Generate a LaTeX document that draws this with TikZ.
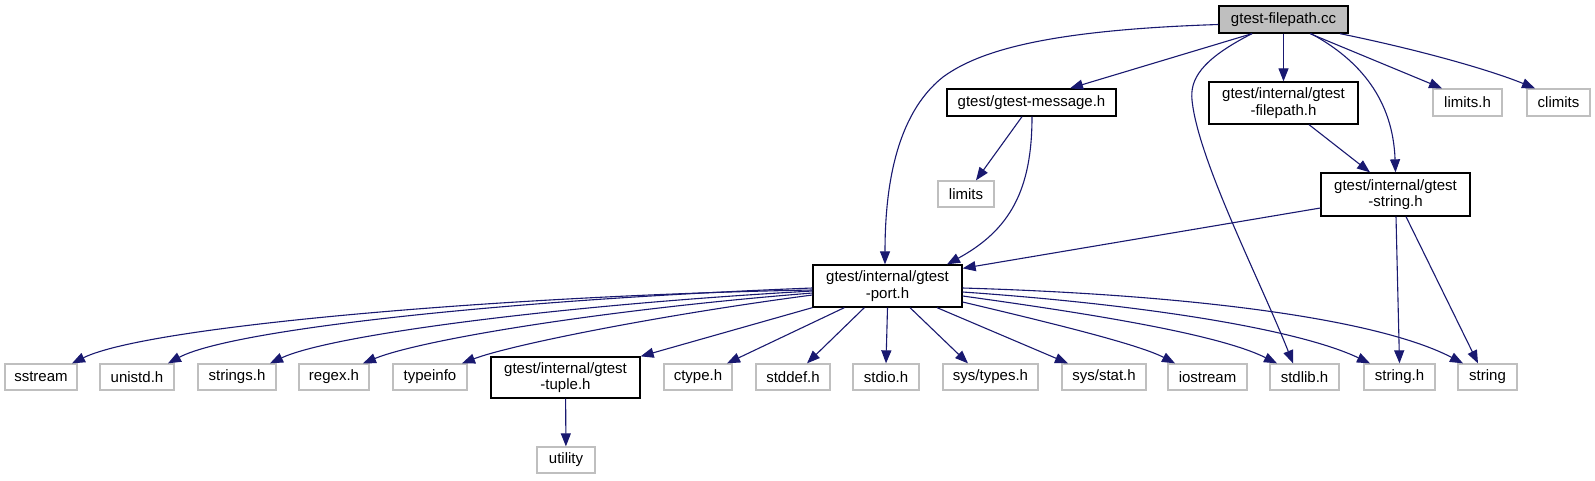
\documentclass[tikz,border=0pt]{standalone}
\usepackage{fontspec}
\setmainfont{Liberation Sans}
\usetikzlibrary{arrows.meta}
\definecolor{edgec}{HTML}{191970}
\definecolor{leafc}{HTML}{BFBFBF}
\definecolor{rootfill}{HTML}{BFBFBF}
\begin{document}
\begin{tikzpicture}[x=1pt,y=-1pt,
  lbl/.style={inner sep=0pt, align=center, font=\fontsize{15}{16.7}\selectfont, minimum height=26pt},
  box/.style={lbl, draw=black, line width=1.3pt},
  leaf/.style={lbl, draw=leafc, line width=1.3pt},
  two/.style={minimum height=42pt},
  dep/.style={draw=edgec, line width=1.1pt, -{Triangle[length=13pt,width=10pt]}}
]
\useasboundingbox (0,0) rectangle (1595,480);
\fill[white] (0,0) rectangle (1595,480);
% nodes
\node[box, fill=rootfill, minimum width=129pt, minimum height=27pt] (root) at (1283.5,19.5) {gtest-filepath.cc};
\node[box, minimum width=169pt, minimum height=27pt] (msg) at (1031.5,102.5) {gtest/gtest-message.h};
\node[box, two, minimum width=149pt] (fph) at (1283.5,103) {gtest/internal/gtest\\-filepath.h};
\node[leaf, minimum width=69pt, minimum height=27pt] (limh) at (1467.5,102.5) {limits.h};
\node[leaf, minimum width=63pt, minimum height=27pt] (climits) at (1558.5,102.5) {climits};
\node[leaf, minimum width=56pt] (limits) at (966,194) {limits};
\node[box, two, minimum width=149pt, minimum height=43pt] (gstr) at (1395.5,194.5) {gtest/internal/gtest\\-string.h};
\node[box, two, minimum width=149pt] (port) at (887.5,286) {gtest/internal/gtest\\-port.h};
% bottom row
\node[leaf, minimum width=72pt] (sstream) at (41,377) {sstream};
\node[leaf, minimum width=74pt] (unistd) at (137,377) {unistd.h};
\node[leaf, minimum width=78pt] (strings) at (237,377) {strings.h};
\node[leaf, minimum width=70pt] (regex) at (334,377) {regex.h};
\node[leaf, minimum width=74pt] (typeinfo) at (430,377) {typeinfo};
\node[box, two, minimum width=149pt, minimum height=41pt] (tuple) at (565.5,377.5) {gtest/internal/gtest\\-tuple.h};
\node[leaf, minimum width=68pt] (ctype) at (698,377) {ctype.h};
\node[leaf, minimum width=74pt] (stddef) at (793,377) {stddef.h};
\node[leaf, minimum width=66pt] (stdio) at (886,377) {stdio.h};
\node[leaf, minimum width=95pt] (systypes) at (990.5,377) {sys/types.h};
\node[leaf, minimum width=84pt] (sysstat) at (1104,377) {sys/stat.h};
\node[leaf, minimum width=79pt] (iostream) at (1207.5,377) {iostream};
\node[leaf, minimum width=69pt] (stdlib) at (1304.5,377) {stdlib.h};
\node[leaf, minimum width=71pt] (stringh) at (1399.5,377) {string.h};
\node[leaf, minimum width=59pt] (string) at (1487.5,377) {string};
\node[leaf, minimum width=58pt] (utility) at (566,460) {utility};
% edges from root
\draw[dep] ([yshift=-5pt]root.west) .. controls (1050,30) and (980,50) .. (943,77)
   .. controls (895,115) and (885,190) .. ([xshift=-2.5pt]port.north);
\draw[dep] ([xshift=-31.5pt]root.south) -- ([xshift=38.5pt]msg.north);
\draw[dep] ([xshift=-31.5pt]root.south) .. controls (1200,60) and (1190,80) .. (1192,100)
   .. controls (1198,160) and (1260,280) .. ([xshift=-11.5pt]stdlib.north);
\draw[dep] (root) -- (fph);
\draw[dep] ([xshift=27.5pt]root.south) .. controls (1360,60) and (1393,100) .. (gstr.north);
\draw[dep] ([xshift=26.5pt]root.south) -- ([xshift=-25.5pt]limh.north);
\draw[dep] ([xshift=56.5pt]root.south) .. controls (1420,50) and (1490,70) .. ([xshift=-23.5pt]climits.north);
% message
\draw[dep] ([xshift=-9.5pt]msg.south) -- ([xshift=10pt]limits.north);
\draw[dep] ([xshift=0.5pt]msg.south) .. controls (1032,190) and (1010,230) .. ([xshift=59.5pt]port.north);
% filepath
\draw[dep] ([xshift=25.5pt]fph.south) -- ([xshift=-25.5pt]gstr.north);
% gtest string
\draw[dep] ([yshift=-13.5pt]gstr.west) -- ([yshift=-4pt]port.north east);
\draw[dep] ([xshift=0.5pt]gstr.south) -- (stringh.north);
\draw[dep] ([xshift=10.5pt]gstr.south) -- ([xshift=-9.5pt]string.north);
% tuple
\draw[dep] (tuple) -- (utility);
% port to children
\draw[dep] ([yshift=-4pt]port.west) .. controls (520,295) and (150,325) .. ([xshift=31pt]sstream.north);
\draw[dep] ([yshift=-2pt]port.west) .. controls (500,300) and (230,330) .. ([xshift=31pt]unistd.north);
\draw[dep] ([yshift=-5pt]port.west) .. controls (560,305) and (330,335) .. ([xshift=33pt]strings.north);
\draw[dep] ([yshift=-7pt]port.west) .. controls (600,310) and (420,340) .. ([xshift=29pt]regex.north);
\draw[dep] ([yshift=-9pt]port.west) .. controls (660,315) and (510,345) .. ([xshift=32pt]typeinfo.north);
\draw[dep] (port.south west) -- (tuple.north east);
\draw[dep] ([xshift=32pt]port.south west) -- ([xshift=29pt]ctype.north);
\draw[dep] ([xshift=52pt]port.south west) -- ([xshift=14pt]stddef.north);
\draw[dep] (port.south) -- (stdio.north);
\draw[dep] ([xshift=22.5pt]port.south) -- ([xshift=-22.5pt]systypes.north);
\draw[dep] ([xshift=49.5pt]port.south) -- ([xshift=-36pt]sysstat.north);
\draw[dep] ([yshift=-16pt]port.east) .. controls (1060,325) and (1140,345) .. ([xshift=-32.5pt]iostream.north);
\draw[dep] ([yshift=-10pt]port.east) .. controls (1100,315) and (1220,335) .. ([xshift=-27.5pt]stdlib.north);
\draw[dep] ([yshift=-6pt]port.east) .. controls (1150,305) and (1300,330) .. ([xshift=-29.5pt]stringh.north);
\draw[dep] ([yshift=-2pt]port.east) .. controls (1200,295) and (1380,320) .. ([xshift=-24.5pt]string.north);
\end{tikzpicture}
\end{document}
